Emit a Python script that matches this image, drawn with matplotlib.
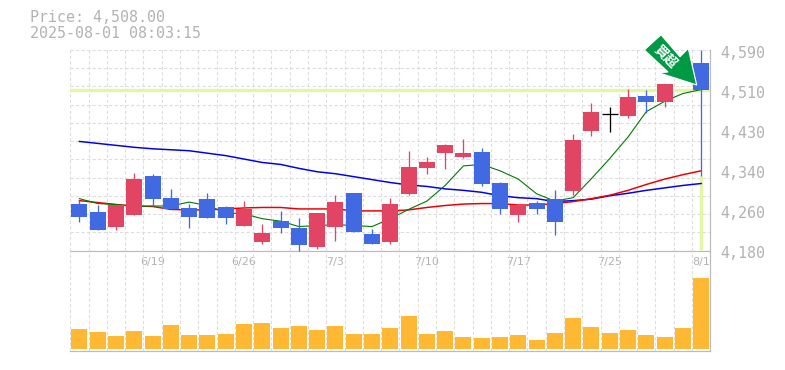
import matplotlib
matplotlib.use("Agg")
import matplotlib.pyplot as plt
from matplotlib.patches import Polygon
from matplotlib.transforms import Affine2D, offset_copy

W, H = 785, 370
PRICE_TITLE = "Price: 4,508.00"
STAMP = "2025-08-01 08:03:15"
LAST_PRICE = 4508
DATE_POS = [4, 9, 14, 19, 24, 29, 34]
DATE_LAB = ["6/19", "6/26", "7/3", "7/10", "7/17", "7/25", "8/1"]
YTICKS = [4590, 4508, 4426, 4344, 4262, 4180]
YLABELS = ["4,590", "4,510", "4,430", "4,340", "4,260", "4,180"]

opens = [4276, 4258, 4229, 4252, 4332, 4287, 4266, 4285, 4268, 4231,
         4198, 4241, 4227, 4188, 4229, 4297, 4213, 4198, 4295, 4348,
         4379, 4371, 4381, 4319, 4252, 4278, 4285, 4301, 4424, 4460,
         4455, 4496, 4483, 4553, 4563]
closes = [4248, 4221, 4274, 4326, 4285, 4264, 4248, 4246, 4246, 4264,
          4215, 4225, 4192, 4256, 4280, 4217, 4194, 4276, 4350, 4360,
          4395, 4379, 4317, 4264, 4274, 4264, 4239, 4406, 4463, 4460,
          4494, 4483, 4520, 4537, 4508]
highs = [4284, 4274, 4274, 4338, 4336, 4305, 4276, 4297, 4270, 4281,
         4235, 4260, 4246, 4256, 4293, 4297, 4223, 4287, 4383, 4371,
         4397, 4408, 4389, 4321, 4274, 4282, 4303, 4419, 4481, 4473,
         4510, 4508, 4520, 4558, 4590]
lows = [4238, 4221, 4221, 4252, 4272, 4264, 4225, 4246, 4235, 4231,
        4194, 4215, 4180, 4184, 4200, 4217, 4194, 4194, 4293, 4336,
        4346, 4369, 4311, 4254, 4239, 4254, 4211, 4293, 4414, 4422,
        4451, 4461, 4473, 4535, 4332]

ma_short = [4286, 4276, 4274, 4270, 4271, 4271, 4279, 4272, 4257, 4255,
            4245, 4240, 4229, 4231, 4233, 4231, 4229, 4245, 4264, 4281,
            4313, 4353, 4356, 4343, 4326, 4296, 4281, 4288, 4327, 4368,
            4412, 4464, 4485, 4501, 4509]
ma_mid = [4282, 4278, 4274, 4271, 4270, 4264, 4263, 4263, 4265, 4267,
          4268, 4268, 4265, 4265, 4265, 4261, 4261, 4261, 4263, 4268,
          4272, 4275, 4276, 4276, 4273, 4273, 4276, 4280, 4286, 4293,
          4303, 4315, 4326, 4335, 4343]
ma_long = [4403, 4399, 4395, 4391, 4388, 4386, 4384, 4379, 4374, 4367,
           4360, 4356, 4348, 4341, 4337, 4331, 4325, 4319, 4314, 4311,
           4306, 4303, 4299, 4292, 4288, 4286, 4280, 4282, 4285, 4292,
           4297, 4303, 4308, 4313, 4317]
volumes = [20, 17, 13, 18, 13, 24, 14, 14, 15, 25, 26, 21, 23, 19, 23, 15, 15, 21,
           33, 15, 18, 12, 11, 12, 14, 9, 16, 31, 22, 16, 19, 14, 12, 21, 71]
doji = [29]

UP = "#e24464"
DOWN = "#4169e1"
GRID = "#dddddd"
AXC = "#bbbbbb"
TXT = "#b2b2b2"
GUIDE = "#e4f5a8"
VOL = "#ffb833"
FONT = "DejaVu Sans Mono"
n = len(opens)
xs = list(range(n))
px = 1 / 100 * 72  # one pixel in points

fig = plt.figure(figsize=(W / 100, H / 100), dpi=100, facecolor="white")
L, R = 70.3 / W, 710.3 / W
ax = fig.add_axes([L, 1 - 250.5 / H, R - L, 200.5 / H])
axv = fig.add_axes([L, 1 - 350.5 / H, R - L, 100 / H])

for a in (ax, axv):
    a.set_xlim(-0.5, n - 0.5)
    a.set_facecolor("none")
    a.tick_params(left=False, bottom=False, right=False, top=False,
                  labelleft=False, labelbottom=False)
    for s in ("left", "top"):
        a.spines[s].set_visible(False)
    for s in ("right", "bottom"):
        a.spines[s].set_color(AXC)
        a.spines[s].set_linewidth(1.2 * px)
    for i in range(n + 1):
        a.axvline(i - 0.5, color=GRID, lw=1.1 * px, dashes=(3, 2), zorder=0)

ax.set_ylim(4180, 4590)
step = (4590 - 4180) / 11
for k in range(12):
    ax.axhline(4180 + k * step, color=GRID, lw=1.1 * px, dashes=(3, 2), zorder=0)

axv.set_ylim(-2, 98)

# guides for the latest price
ax.axhline(LAST_PRICE, color=GUIDE, lw=3.4 * px, zorder=1)
ax.plot([34, 34], [4182, lows[34]], color=GUIDE, lw=3.4 * px, zorder=1,
        solid_capstyle="butt")

# moving averages
ax.plot(xs, ma_long, color="#0000ee", lw=1.5 * px, zorder=2)
ax.plot(xs, ma_mid, color="#ee0000", lw=1.5 * px, zorder=2.1)
ax.plot(xs, ma_short, color="#007700", lw=1.1 * px, zorder=2.2)

# candles
for i in xs:
    if i in doji:
        ax.plot([i, i], [lows[i], highs[i]], color="black", lw=1.3 * px, zorder=3,
                solid_capstyle="butt")
        ax.plot([i - 0.44, i + 0.44], [opens[i], closes[i]], color="black",
                lw=1.3 * px, zorder=3, solid_capstyle="butt")
        continue
    c = UP if closes[i] >= opens[i] else DOWN
    ax.plot([i, i], [lows[i], highs[i]], color=c, lw=1.3 * px, zorder=3,
            solid_capstyle="butt", clip_on=False)
    ax.bar(i, abs(closes[i] - opens[i]), bottom=min(opens[i], closes[i]),
           width=0.875, color=c, zorder=3.1, linewidth=0)

axv.bar(xs, volumes, width=0.875, color=VOL, linewidth=0, zorder=2)

# y labels: text sits a little below its level
lab_tr = offset_copy(ax.get_yaxis_transform(), fig=fig, x=10, y=-3, units="dots")
for v, s in zip(YTICKS, YLABELS):
    ax.text(1.0, v, s, transform=lab_tr, ha="left", va="center", family=FONT,
            fontsize=10.8, color=TXT, clip_on=False)

# date labels
for i, s in zip(DATE_POS, DATE_LAB):
    ax.text(i, 4180, s, ha="center", va="center", family="DejaVu Sans", fontsize=8, color=TXT,
            transform=offset_copy(ax.transData, fig=fig, x=0, y=-11, units="dots"),
            clip_on=False)

fig.text(30 / W, 1 - 18 / H, PRICE_TITLE, family=FONT, fontsize=10.8, color=TXT, va="center")
fig.text(30 / W, 1 - 33 / H, STAMP, family=FONT, fontsize=10.8, color=TXT, va="center")

# badge arrow, in figure pixels from the top left
to_fig = Affine2D().scale(1, -1).translate(0, H) + Affine2D().scale(1 / W, 1 / H) + fig.transFigure
arrow_shape = [(661, 34.7), (644.3, 50), (668, 72), (658.3, 72.7), (696.7, 85), (688.3, 48.3), (680, 56.7)]
fig.add_artist(Polygon(arrow_shape, closed=True, facecolor="#009944", edgecolor="white",
                       lw=1.2 * px, transform=to_fig, zorder=10))
fig.text(665.5 / W, 1 - 57 / H, "\u8cb7\u8d85", family=["Noto Sans CJK TC", "DejaVu Sans"],
         fontsize=9.5, fontweight="bold", color="white", rotation=-45,
         rotation_mode="anchor", ha="center", va="center", zorder=11)

fig.savefig("out.png", dpi=100)
